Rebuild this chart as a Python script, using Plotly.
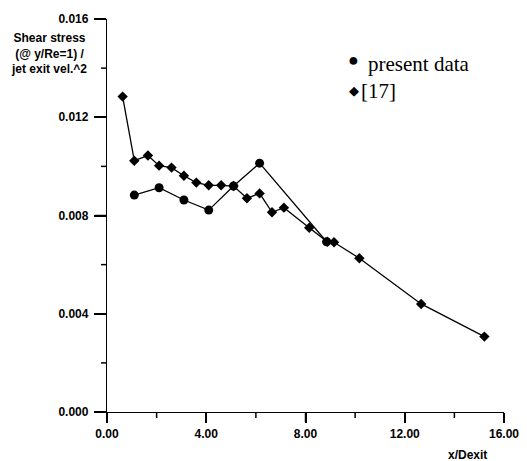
import plotly.graph_objects as go

# present data (circles)
present_x = [1.1, 2.1, 3.1, 4.1, 5.1, 6.15, 8.85]
present_y = [0.00883, 0.00913, 0.00863, 0.00822, 0.00920, 0.01013, 0.00693]

# [17] (diamonds)
ref_x = [0.63, 1.1, 1.65, 2.1, 2.6, 3.1, 3.6, 4.1, 4.6, 5.1, 5.64, 6.15, 6.65, 7.13, 8.15, 8.88, 9.15, 10.17, 12.66, 15.21]
ref_y = [0.01284, 0.01023, 0.01044, 0.01003, 0.00995, 0.00962, 0.00934, 0.00923, 0.00923, 0.00920,
         0.00870, 0.00890, 0.00813, 0.00832, 0.00750, 0.00693, 0.00691, 0.00626, 0.00440, 0.00307]

y_ticks = [0.000, 0.004, 0.008, 0.012, 0.016]
y_minor = [0.002, 0.006, 0.010, 0.014]
x_ticks = [0, 4, 8, 12, 16]
x_minor = [2, 6, 10, 14]

# the page body has a small margin; compensate
OX, OY = 7, 8
W, H = 527 - OX, 461 - OY
L, T = 99, 11
pw, ph = 397, 393
R, B = W - L - pw, H - T - ph

def px(x):
    return (x - OX - L) / pw

def py(y):
    return (T + ph - (y - OY)) / ph

fig = go.Figure()
fig.add_trace(go.Scatter(x=ref_x, y=ref_y, mode="lines+markers",
                         line=dict(color="black", width=1.3),
                         marker=dict(symbol="diamond", size=8, color="black"),
                         showlegend=False))
fig.add_trace(go.Scatter(x=present_x, y=present_y, mode="lines+markers",
                         line=dict(color="black", width=1.3),
                         marker=dict(symbol="circle", size=9, color="black"),
                         showlegend=False))

tickfont = dict(family="Liberation Sans", size=12, color="black")
fig.update_xaxes(range=[0, 16], tickmode="array", tickvals=x_ticks,
                 ticktext=[f"<b>{v:.2f}</b>" for v in x_ticks],
                 ticks="outside", ticklen=10, tickwidth=1.5, tickcolor="#000000",
                 showline=True, linecolor="black", linewidth=1.3, showgrid=False, zeroline=False,
                 tickfont=tickfont, automargin=False)
fig.update_yaxes(range=[0, 0.016], tickmode="array", tickvals=y_ticks,
                 ticktext=[f"<b>{v:.3f}</b>" for v in y_ticks],
                 ticks="outside", ticklen=12, tickwidth=1.5, tickcolor="#000000",
                 showline=True, linecolor="black", linewidth=1.3, showgrid=False, zeroline=False,
                 tickfont=tickfont, automargin=False, ticklabelstandoff=3)

# tick marks drawn explicitly (major and minor)
tick_line = dict(color="black", width=1.5)
shapes = []
for v in x_ticks:
    shapes.append(dict(type="line", xref="x", yref="paper", x0=v, x1=v, y0=0, y1=-10 / ph, line=tick_line))
for v in x_minor:
    shapes.append(dict(type="line", xref="x", yref="paper", x0=v, x1=v, y0=0, y1=-6 / ph, line=tick_line))
for v in y_ticks:
    shapes.append(dict(type="line", xref="paper", yref="y", x0=0, x1=-12 / pw, y0=v, y1=v, line=tick_line))
for v in y_minor:
    shapes.append(dict(type="line", xref="paper", yref="y", x0=0, x1=-6 / pw, y0=v, y1=v, line=tick_line))

serif = "Liberation Serif"
anns = [
    dict(x=px(88), y=py(53), xref="paper", yref="paper", xanchor="right", yanchor="middle",
         text="<b>Shear stress<br>(@ y/Re=1) /<br>jet exit vel.^2</b>", align="center",
         showarrow=False, font=dict(family="Liberation Sans", size=12, color="black")),
    dict(x=px(466), y=py(455), xref="paper", yref="paper", xanchor="center", yanchor="middle",
         text="<b>x/Dexit</b>", showarrow=False,
         font=dict(family="Liberation Sans", size=12, color="black")),
    dict(x=px(352), y=py(60), xref="paper", yref="paper", xanchor="center", yanchor="middle",
         text="●", showarrow=False, font=dict(family=serif, size=18, color="black")),
    dict(x=px(365), y=py(64), xref="paper", yref="paper", xanchor="left", yanchor="middle",
         text="present data", showarrow=False, font=dict(family=serif, size=21, color="black")),
    dict(x=px(353), y=py(91), xref="paper", yref="paper", xanchor="center", yanchor="middle",
         text="◆", showarrow=False, font=dict(family=serif, size=13, color="black")),
    dict(x=px(358), y=py(91), xref="paper", yref="paper", xanchor="left", yanchor="middle",
         text="[17]", showarrow=False, font=dict(family=serif, size=21, color="black")),
]

fig.update_layout(width=W, height=H, margin=dict(l=L, r=R, t=T, b=B),
                  paper_bgcolor="white", plot_bgcolor="white", annotations=anns, shapes=shapes)
fig.write_html("out.html")
